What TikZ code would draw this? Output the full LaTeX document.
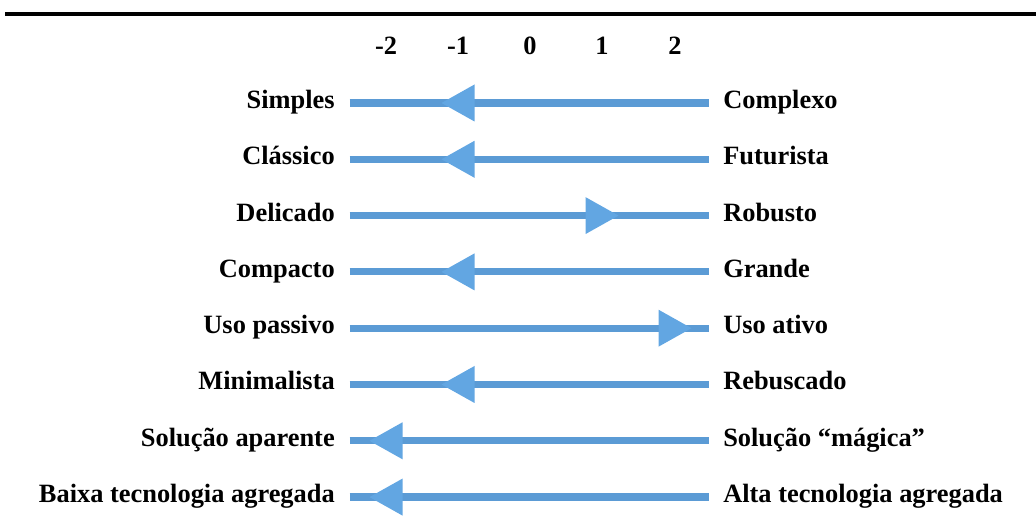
\documentclass[tikz,border=0pt]{standalone}
\usepackage{fontspec}
\setmainfont{Liberation Serif}
\usetikzlibrary{calc}
\definecolor{eline}{HTML}{5B9BD5}
\definecolor{etri}{HTML}{62A6E2}
\tikzset{
  elab/.style={font=\fontsize{19.8pt}{24pt}\selectfont\bfseries, inner xsep=0pt,
               inner ysep=2pt, text height=1.78ex, text depth=0pt},
  enum/.style={elab},
  escala/.style={eline, line width=5.4pt, shorten <=11pt, shorten >=10.5pt},
  eseta/.style={fill=etri},
}
\begin{document}
\begin{tikzpicture}[x=0.75pt,y=0.75pt]
  \useasboundingbox (0,0) rectangle (1036,520);

  \coordinate (tl) at (5,506);
  \coordinate (tr) at (1036,506);
  \draw[line width=3pt] (tl) -- (tr);

  \foreach \v/\x in {-2/386,-1/458,0/530,1/602,2/675}
    \node[enum] (v\v) at (\x,471) {\v};

  \foreach \i/\esq/\dir/\v/\d [evaluate=\i as \y using 417-(\i-1)*56.3] in
    {1/Simples/Complexo/-1/-1, 2/Clássico/Futurista/-1/-1,
     3/Delicado/Robusto/1/1, 4/Compacto/Grande/-1/-1,
     5/Uso passivo/Uso ativo/2/1, 6/Minimalista/Rebuscado/-1/-1,
     7/Solução aparente/Solução “mágica”/-2/-1,
     8/Baixa tecnologia agregada/Alta tecnologia agregada/-2/-1}
  {
    \node[elab, anchor=east] (esq\i) at (335,\y) {\esq};
    \node[elab, anchor=west] (dir\i) at (723,\y) {\dir};
    \draw[escala] (esq\i) -- (dir\i);
    \coordinate (m\i) at (v\v |- esq\i);
    \fill[eseta] ($(m\i)+(\d*16.5,0)$) -- ++(\d*-33,18.5) -- ++(0,-37) -- cycle;
  }

\end{tikzpicture}
\end{document}
